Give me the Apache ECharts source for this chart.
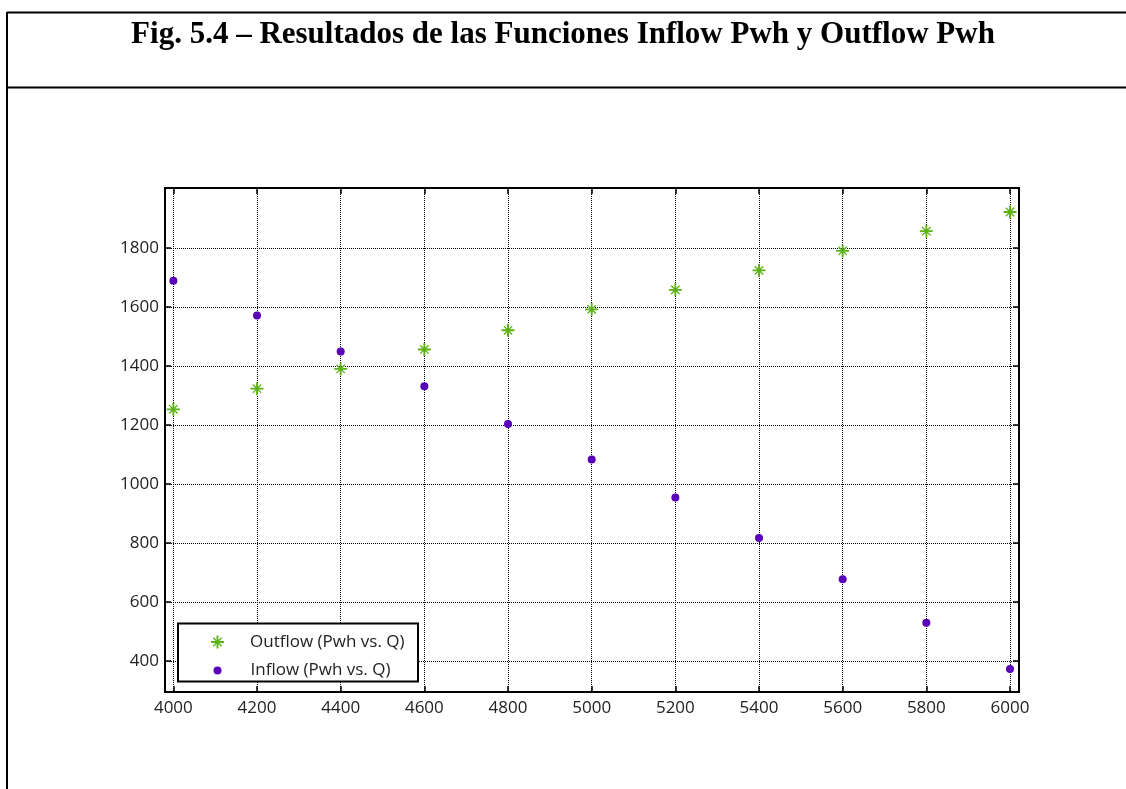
<!DOCTYPE html>
<html>
<head>
<meta charset="utf-8">
<script src="https://cdn.jsdelivr.net/npm/echarts@6/dist/echarts.min.js"></script>
<style>html,body{margin:0;padding:0;background:#fff}#c{width:1126px;height:789px}</style>
</head>
<body>
<div id="c"></div>
<script>
const titleText = 'Fig. 5.4 – Resultados de las Funciones Inflow Pwh y Outflow Pwh';
const qValues = [4000, 4200, 4400, 4600, 4800, 5000, 5200, 5400, 5600, 5800, 6000];
const outflowPwh = [1253, 1323, 1390, 1456, 1521, 1592, 1658, 1724, 1790, 1857, 1922];
const inflowPwh = [1689, 1571, 1449, 1331, 1203, 1083, 954, 817, 677, 529, 373];
const xTicks = [4000, 4200, 4400, 4600, 4800, 5000, 5200, 5400, 5600, 5800, 6000];
const yTicks = [400, 600, 800, 1000, 1200, 1400, 1600, 1800];
const outflowName = 'Outflow (Pwh vs. Q)';
const inflowName = 'Inflow (Pwh vs. Q)';

const GREEN = '#5cb214';
const PURPLE = '#5a00b8';
const STAR = 'path://M0 6H14V8H0Z M6 0H8V14H6Z M2 3L3 2L12 11L11 12Z M2 11L11 2L12 3L3 12Z';

const X_MIN = 3980, X_MAX = 6021.5, Y_MIN = 294.6, Y_MAX = 2003.4;

const chart = echarts.init(document.getElementById('c'), null, {renderer: 'canvas'});

const plain = v => String(v);
const labelFont = {fontFamily: 'Open Sans', fontSize: 17, color: '#222', formatter: plain};
const tickStyle = {show: true, inside: true, length: 6, lineStyle: {color: '#000', width: 1.5}};
const splitStyle = {show: true, lineStyle: {color: '#000', width: 1, type: [1, 1]}};

function pair(a, b) { return a.map((v, i) => [v, b[i]]); }

chart.setOption({
  animation: false,
  backgroundColor: '#fff',
  title: {
    text: titleText,
    left: 'center',
    top: 14,
    textStyle: {fontFamily: 'Liberation Serif', fontWeight: 'bold', fontSize: 31, color: '#000'}
  },
  graphic: [
    {type: 'line', z: 1, shape: {x1: 7, y1: 12.5, x2: 1126, y2: 12.5}, style: {stroke: '#000', lineWidth: 2}},
    {type: 'line', z: 1, shape: {x1: 7, y1: 12, x2: 7, y2: 789}, style: {stroke: '#000', lineWidth: 2}},
    {type: 'line', z: 1, shape: {x1: 7, y1: 87.5, x2: 1126, y2: 87.5}, style: {stroke: '#000', lineWidth: 2}},
    {type: 'rect', z: 10, shape: {x: 178, y: 623.5, width: 240, height: 58}, style: {fill: '#fff', stroke: '#000', lineWidth: 2}}
  ],
  legend: [
    {
      z: 20, selectedMode: false, orient: 'vertical', left: 211, top: 633.5, padding: 0,
      itemWidth: 13, itemHeight: 13,
      data: [{name: outflowName, icon: STAR}],
      textStyle: {fontFamily: 'Open Sans', fontSize: 17, color: '#222', padding: [5, 0, 0, 21]}
    },
    {
      z: 20, selectedMode: false, orient: 'vertical', left: 213.5, top: 662, padding: 0,
      itemWidth: 8, itemHeight: 8,
      data: [{name: inflowName, icon: 'circle'}],
      textStyle: {fontFamily: 'Open Sans', fontSize: 17, color: '#222', padding: [4, 0, 0, 24]}
    }
  ],
  grid: {
    left: 165, right: 107, top: 188, bottom: 97,
    show: true, borderColor: '#000', borderWidth: 2, backgroundColor: 'transparent'
  },
  xAxis: [
    {
      type: 'value', position: 'bottom', min: X_MIN, max: X_MAX,
      axisLine: {show: true, onZero: false, lineStyle: {color: '#000', width: 2}},
      axisTick: Object.assign({customValues: xTicks}, tickStyle),
      axisLabel: Object.assign({customValues: xTicks, margin: 8}, labelFont),
      splitLine: splitStyle
    },
    {
      type: 'value', position: 'top', min: X_MIN, max: X_MAX,
      axisLine: {show: true, onZero: false, lineStyle: {color: '#000', width: 2}},
      axisTick: Object.assign({customValues: xTicks}, tickStyle),
      axisLabel: {show: false},
      splitLine: {show: false}
    }
  ],
  yAxis: [
    {
      type: 'value', position: 'left', min: Y_MIN, max: Y_MAX,
      axisLine: {show: true, onZero: false, lineStyle: {color: '#000', width: 2}},
      axisTick: Object.assign({customValues: yTicks}, tickStyle),
      axisLabel: Object.assign({customValues: yTicks, margin: 6}, labelFont),
      splitLine: splitStyle
    },
    {
      type: 'value', position: 'right', min: Y_MIN, max: Y_MAX,
      axisLine: {show: true, onZero: false, lineStyle: {color: '#000', width: 2}},
      axisTick: Object.assign({customValues: yTicks}, tickStyle),
      axisLabel: {show: false},
      splitLine: {show: false}
    }
  ],
  series: [
    {
      name: outflowName, type: 'scatter', xAxisIndex: 0, yAxisIndex: 0,
      symbol: STAR, symbolSize: 13, symbolKeepAspect: true,
      itemStyle: {color: GREEN, opacity: 1},
      data: pair(qValues, outflowPwh), z: 5
    },
    {
      name: inflowName, type: 'scatter', xAxisIndex: 0, yAxisIndex: 0,
      symbol: 'circle', symbolSize: 8,
      itemStyle: {color: PURPLE, opacity: 1},
      data: pair(qValues, inflowPwh), z: 5
    }
  ]
});
</script>
</body>
</html>
